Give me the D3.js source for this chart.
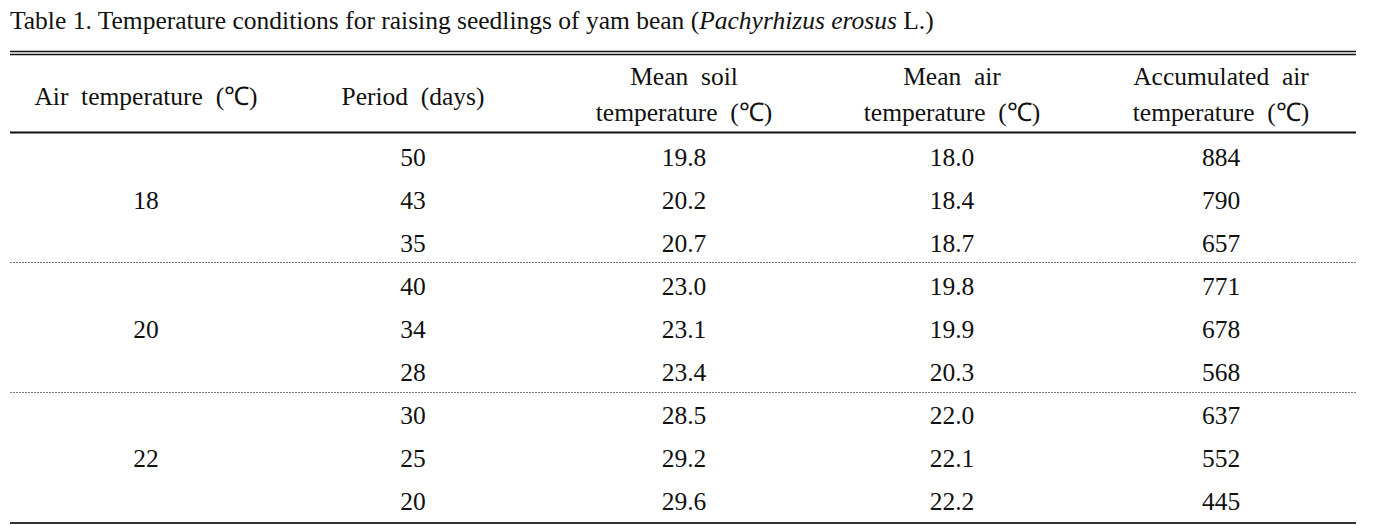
<!DOCTYPE html>
<html>
<head>
<meta charset="utf-8">
<script src="https://cdn.jsdelivr.net/npm/d3@7"></script>
<style>
  html, body { margin: 0; padding: 0; background: #fff; }
  text { font-family: "Liberation Serif", "Times New Roman", serif; fill: #111; }
</style>
</head>
<body>
<script>
const title = "Table 1. Temperature conditions for raising seedlings of yam bean (";
const titleItalic = "Pachyrhizus erosus";
const titleEnd = " L.)";
const headers = [
  ["Air  temperature  (℃)"],
  ["Period  (days)"],
  ["Mean  soil", "temperature  (℃)"],
  ["Mean  air", "temperature  (℃)"],
  ["Accumulated  air", "temperature  (℃)"]
];
const airTemps = [18, 20, 22];
const periods = [50, 43, 35, 40, 34, 28, 30, 25, 20];
const soilTemps = [19.8, 20.2, 20.7, 23.0, 23.1, 23.4, 28.5, 29.2, 29.6];
const meanAirTemps = [18.0, 18.4, 18.7, 19.8, 19.9, 20.3, 22.0, 22.1, 22.2];
const accumTemps = [884, 790, 657, 771, 678, 568, 637, 552, 445];

const W = 1375, H = 525;
const left = 10, right = 1356;
const fs = 25.5;

const svg = d3.select("body").append("svg").attr("width", W).attr("height", H);

// title
const t = svg.append("text").attr("x", 10).attr("y", 29).attr("font-size", fs);
t.append("tspan").text(title);
t.append("tspan").attr("font-style", "italic").text(titleItalic);
t.append("tspan").text(titleEnd);

// column scale
const colX = d3.scaleOrdinal().domain(d3.range(5)).range([146, 413, 684, 952, 1221]);

// row scale
const y = d3.scaleBand().domain(d3.range(periods.length)).range([135, 523]);

// lines
svg.append("line").attr("x1", left).attr("x2", right).attr("y1", 51.5).attr("y2", 51.5).attr("stroke", "#111").attr("stroke-width", 1.6);
svg.append("line").attr("x1", left).attr("x2", right).attr("y1", 54.5).attr("y2", 54.5).attr("stroke", "#111").attr("stroke-width", 1.6);
svg.append("line").attr("x1", left).attr("x2", right).attr("y1", 132.5).attr("y2", 132.5).attr("stroke", "#111").attr("stroke-width", 2);
svg.append("line").attr("x1", left).attr("x2", right).attr("y1", 523).attr("y2", 523).attr("stroke", "#333").attr("stroke-width", 2);
[3, 6].forEach(i => {
  const yy = Math.round(y(i)) - 1.5;
  svg.append("line").attr("x1", left).attr("x2", right).attr("y1", yy).attr("y2", yy)
    .attr("stroke", "#777").attr("stroke-width", 1).attr("stroke-dasharray", "2,1");
});

// headers
headers.forEach((h, i) => {
  const tx = svg.append("text").attr("x", colX(i)).attr("text-anchor", "middle")
    .attr("font-size", fs).style("white-space", "pre");
  if (h.length === 1) {
    tx.attr("y", 105).text(h[0]);
  } else {
    tx.attr("y", 85).text(h[0]);
    svg.append("text").attr("x", colX(i)).attr("y", 121).attr("text-anchor", "middle")
      .attr("font-size", fs).style("white-space", "pre").text(h[1]);
  }
});

// air temp groups
airTemps.forEach((a, g) => {
  svg.append("text").attr("x", colX(0)).attr("y", y(g * 3 + 1) + y.bandwidth() / 2 + 9)
    .attr("text-anchor", "middle").attr("font-size", fs).text(a);
});

const f1 = d3.format(".1f");
const cols = [periods.map(String), soilTemps.map(f1), meanAirTemps.map(f1), accumTemps.map(String)];
cols.forEach((vals, c) => {
  svg.selectAll(null).data(vals).enter().append("text")
    .attr("x", colX(c + 1))
    .attr("y", (d, i) => y(i) + y.bandwidth() / 2 + 9)
    .attr("text-anchor", "middle").attr("font-size", fs)
    .text(d => d);
});
</script>
</body>
</html>
